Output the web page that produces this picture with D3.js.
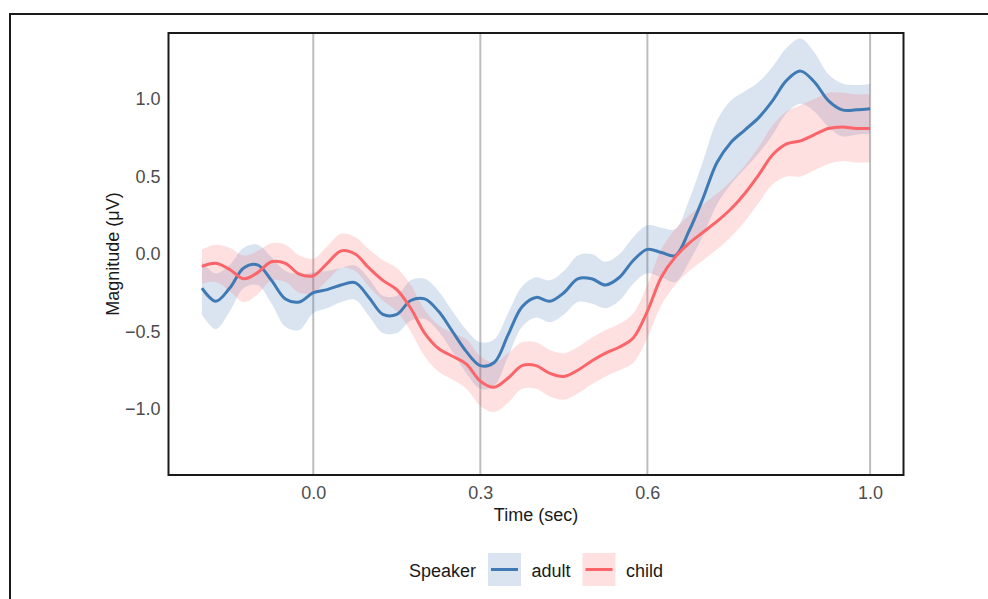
<!DOCTYPE html>
<html>
<head>
<meta charset="utf-8">
<script src="https://cdn.jsdelivr.net/npm/d3@7"></script>
<style>
    html, body { margin: 0; padding: 0; background: #fff; }
    svg { display: block; font-family: "Liberation Sans", Arial, Helvetica, sans-serif; }
</style>
</head>
<body>
<div id="chart"></div>
<script>
// time points (sec)
var times = [-0.2, -0.175, -0.15, -0.125, -0.1, -0.075, -0.05, -0.025, 0.0, 0.025, 0.05, 0.075,
    0.1, 0.125, 0.15, 0.175, 0.2, 0.225, 0.25, 0.275, 0.3, 0.325, 0.35, 0.375,
    0.4, 0.425, 0.45, 0.475, 0.5, 0.525, 0.55, 0.575, 0.6, 0.625, 0.65, 0.675,
    0.7, 0.725, 0.75, 0.775, 0.8, 0.825, 0.85, 0.875, 0.9, 0.925, 0.95, 0.975, 1.0];

// mean magnitude (uV)
var adultMean = [-0.22, -0.305, -0.22, -0.09, -0.07, -0.17, -0.29, -0.31, -0.25, -0.23, -0.20, -0.185,
    -0.28, -0.39, -0.39, -0.30, -0.29, -0.37, -0.50, -0.63, -0.72, -0.70, -0.52, -0.34,
    -0.28, -0.305, -0.25, -0.16, -0.16, -0.20, -0.15, -0.04, 0.03, 0.01, -0.01, 0.15,
    0.36, 0.59, 0.72, 0.80, 0.88, 0.99, 1.12, 1.18, 1.11, 0.99, 0.93, 0.93, 0.937];
var childMean = [-0.08, -0.06, -0.10, -0.16, -0.12, -0.05, -0.06, -0.13, -0.14, -0.06, 0.02, 0.00,
    -0.09, -0.17, -0.23, -0.35, -0.51, -0.61, -0.66, -0.71, -0.82, -0.86, -0.80, -0.72,
    -0.72, -0.77, -0.79, -0.75, -0.69, -0.64, -0.60, -0.54, -0.37, -0.15, -0.02, 0.07,
    0.14, 0.21, 0.29, 0.39, 0.51, 0.64, 0.71, 0.73, 0.77, 0.81, 0.82, 0.81, 0.81];

// ribbon half-widths
var adultSe = [0.17, 0.18, 0.15, 0.13, 0.13, 0.15, 0.18, 0.18, 0.13, 0.12, 0.11, 0.11,
    0.12, 0.12, 0.12, 0.13, 0.13, 0.13, 0.13, 0.14, 0.15, 0.15, 0.14, 0.13,
    0.13, 0.135, 0.14, 0.15, 0.16, 0.15, 0.15, 0.15, 0.155, 0.16, 0.17, 0.20,
    0.24, 0.27, 0.27, 0.25, 0.23, 0.22, 0.21, 0.21, 0.19, 0.17, 0.17, 0.16, 0.16];
var childSe = [0.11, 0.12, 0.14, 0.15, 0.14, 0.12, 0.12, 0.12, 0.11, 0.11, 0.11, 0.11,
    0.12, 0.13, 0.14, 0.15, 0.15, 0.15, 0.15, 0.16, 0.16, 0.16, 0.16, 0.15,
    0.15, 0.15, 0.15, 0.15, 0.15, 0.15, 0.15, 0.16, 0.17, 0.18, 0.18, 0.18,
    0.18, 0.18, 0.18, 0.18, 0.18, 0.19, 0.21, 0.23, 0.23, 0.23, 0.22, 0.22, 0.22];

var speakers = ['adult', 'child'];
var colours = ['#3f7ab4', '#fb6468'];
var xTicks = [0.0, 0.3, 0.6, 1.0];
var yTicks = [-1.0, -0.5, 0.0, 0.5, 1.0];

var W = 988, H = 599;
var panel = { left: 168.5, right: 903.5, top: 33, bottom: 475 };

var svg = d3.select('#chart').append('svg')
    .attr('width', W)
    .attr('height', H);

// outer frame (only top and left visible)
svg.append('path')
    .attr('d', 'M10,' + H + 'V14H' + W)
    .attr('fill', 'none')
    .attr('stroke', '#1a1a1a')
    .attr('stroke-width', 2);

var x = d3.scaleLinear().domain([-0.26, 1.06]).range([panel.left, panel.right]);
var y = d3.scaleLinear().domain([-1.426, 1.426]).range([panel.bottom, panel.top]);

// vertical grid lines
svg.append('g').selectAll('line')
    .data(xTicks)
    .enter().append('line')
    .attr('x1', d => x(d)).attr('x2', d => x(d))
    .attr('y1', panel.top).attr('y2', panel.bottom)
    .attr('stroke', '#bdbdbd')
    .attr('stroke-width', 2);

var series = speakers.map(function(s, k) {
    var m = k === 0 ? adultMean : childMean;
    var se = k === 0 ? adultSe : childSe;
    return {
        name: s,
        colour: colours[k],
        values: times.map((t, i) => ({ t: t, v: m[i], lo: m[i] - se[i], hi: m[i] + se[i] }))
    };
});

var area = d3.area()
    .x(d => x(d.t))
    .y0(d => y(d.lo))
    .y1(d => y(d.hi))
    .curve(d3.curveCatmullRom);

var line = d3.line()
    .x(d => x(d.t))
    .y(d => y(d.v))
    .curve(d3.curveCatmullRom);

svg.append('g').selectAll('path')
    .data(series)
    .enter().append('path')
    .attr('d', d => area(d.values))
    .attr('fill', d => d.colour)
    .attr('fill-opacity', 0.2);

svg.append('g').selectAll('path')
    .data(series)
    .enter().append('path')
    .attr('d', d => line(d.values))
    .attr('fill', 'none')
    .attr('stroke', d => d.colour)
    .attr('stroke-width', 3);

// panel border
svg.append('rect')
    .attr('x', panel.left).attr('y', panel.top)
    .attr('width', panel.right - panel.left)
    .attr('height', panel.bottom - panel.top)
    .attr('fill', 'none')
    .attr('stroke', '#1a1a1a')
    .attr('stroke-width', 2);

// axes (labels only, ticks hidden)
var xAxis = d3.axisBottom(x).tickValues(xTicks).tickFormat(d3.format('.1f')).tickSize(0).tickPadding(11);
var yAxis = d3.axisLeft(y).tickValues(yTicks).tickFormat(d3.format('.1f')).tickSize(0).tickPadding(8);

var gx = svg.append('g').attr('transform', 'translate(0,' + panel.bottom + ')').call(xAxis);
var gy = svg.append('g').attr('transform', 'translate(' + panel.left + ',0)').call(yAxis);
[gx, gy].forEach(function(g) {
    g.select('.domain').remove();
    g.selectAll('text')
        .attr('font-size', 18)
        .attr('font-family', '"Liberation Sans", Arial, sans-serif')
        .attr('fill', '#4d4d4d');
});

svg.append('text')
    .attr('x', (panel.left + panel.right) / 2)
    .attr('y', 521)
    .attr('text-anchor', 'middle')
    .attr('font-size', 18)
    .attr('fill', '#1a1a1a')
    .text('Time (sec)');

svg.append('text')
    .attr('transform', 'translate(119,' + y(0) + ') rotate(-90)')
    .attr('text-anchor', 'middle')
    .attr('font-size', 18)
    .attr('fill', '#1a1a1a')
    .text('Magnitude (μV)');

// legend
var legend = svg.append('g');
legend.append('text')
    .attr('x', 409).attr('y', 576.5)
    .attr('font-size', 18)
    .attr('fill', '#1a1a1a')
    .text('Speaker');

var keyX = [488, 582.5];
var labelX = [531.5, 626];
series.forEach(function(s, k) {
    legend.append('rect')
        .attr('x', keyX[k]).attr('y', 553)
        .attr('width', 33).attr('height', 33)
        .attr('fill', s.colour)
        .attr('fill-opacity', 0.2);
    legend.append('line')
        .attr('x1', keyX[k] + 3).attr('x2', keyX[k] + 30)
        .attr('y1', 569.5).attr('y2', 569.5)
        .attr('stroke', s.colour)
        .attr('stroke-width', 3);
    legend.append('text')
        .attr('x', labelX[k]).attr('y', 576.5)
        .attr('font-size', 18)
        .attr('fill', '#1a1a1a')
        .text(s.name);
});
</script>
</body>
</html>
